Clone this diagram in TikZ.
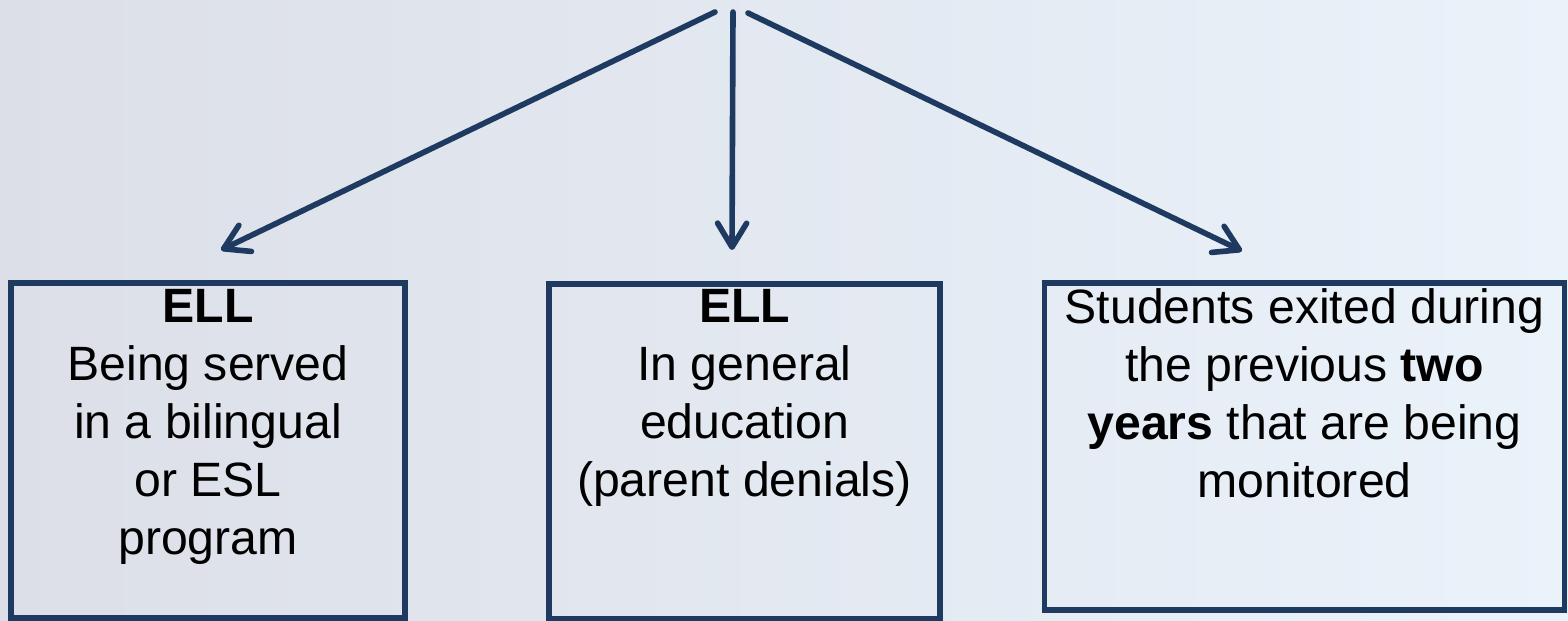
\documentclass[tikz,border=0pt]{standalone}
\usepackage{fontspec}
\setmainfont{Liberation Sans}
\usetikzlibrary{arrows.meta}
\definecolor{navy}{RGB}{31,58,96}
\definecolor{bgleft}{RGB}{220,223,232}
\definecolor{bgright}{RGB}{234,242,250}

\begin{document}
\begin{tikzpicture}[x=0.01cm, y=-0.01cm,
  box/.style={draw=navy, line width=1.5pt, minimum width=#1, minimum height=3.35cm, inner sep=0},
  txt/.style={anchor=north, align=center, inner sep=0, font=\fontsize{13.7}{16.5}\selectfont},
  link/.style={draw=navy, line width=1.6pt, line cap=round,
    -{Straight Barb[length=2.4mm, width=2.9mm, line cap=round, line join=round]}}]
\shade[left color=bgleft, right color=bgright] (0,0) rectangle (1568,620);
\useasboundingbox (0,0) rectangle (1568,620);
% boxes
\node[box=3.94cm] (boxL) at (208,450.5) {};
\node[box=3.91cm] (boxM) at (744.5,451.5) {};
\node[box=5.19cm, minimum height=3.27cm] (boxR) at (1304.5,446.5) {};
% texts
\node[txt] (txtL) at ([yshift=-0.08cm]boxL.north) {\textbf{ELL}\\Being served\\in a bilingual\\or ESL\\program};
\node[txt] (txtM) at ([yshift=-0.07cm]boxM.north) {\textbf{ELL}\\In general\\education\\(parent denials)};
\node[txt] (txtR) at ([yshift=-0.08cm]boxR.north) {Students exited during\\the previous \textbf{two}\\\textbf{years} that are being\\monitored};
% arrows
\coordinate (srcL) at (715,12);
\coordinate (srcM) at (733,12);
\coordinate (srcR) at (748,13);
\coordinate (tipL) at (221,250);
\coordinate (tipM) at (732,250);
\coordinate (tipR) at (1242,251);
\draw[link] (srcL) -- (tipL);
\draw[link] (srcM) -- (tipM);
\draw[link] (srcR) -- (tipR);
\end{tikzpicture}
\end{document}
